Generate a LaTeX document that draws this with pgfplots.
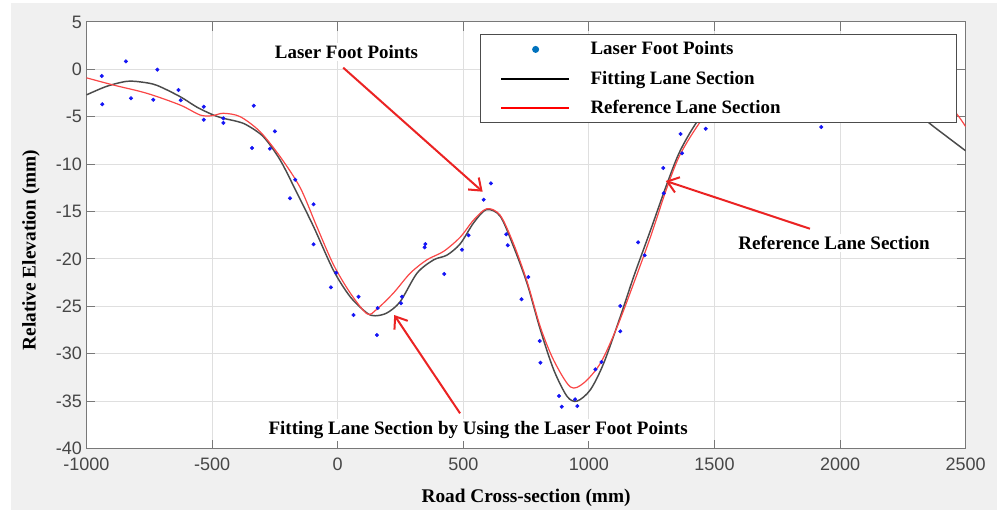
\documentclass[border=0pt]{standalone}
\usepackage{pgfplots}
\pgfplotsset{compat=1.18}
\usepackage{fontspec}
\setmainfont{Liberation Serif}
\setsansfont{Liberation Sans}
\usetikzlibrary{arrows.meta}
\definecolor{figgray}{RGB}{240,240,240}
\definecolor{gridc}{RGB}{223,223,223}
\definecolor{axc}{RGB}{120,120,120}
\definecolor{tickc}{RGB}{70,70,70}
\definecolor{fitc}{RGB}{75,75,75}
\definecolor{refc}{RGB}{250,70,70}
\definecolor{ptc}{RGB}{20,20,245}
\definecolor{legpt}{RGB}{0,114,189}
\definecolor{arrc}{RGB}{235,35,35}

\pgfplotstableread{
x y
-939 -0.71
-937 -3.69
-843 0.84
-823 -3.06
-734 -3.21
-718 -0.04
-634 -2.18
-625 -3.27
-533 -3.95
-533 -5.32
-455 -5.17
-455 -5.66
-334 -3.84
-341 -8.30
-270 -8.38
-250 -6.54
-190 -13.61
-169 -11.65
-96 -14.24
-96 -18.46
-27 -23.0
-6 -21.46
63 -25.92
83 -23.99
156 -28.03
159 -25.18
256 -23.99
252 -24.68
349 -18.43
346 -18.78
424 -21.59
495 -19.03
521 -17.51
581 -13.76
610 -12.03
671 -17.41
677 -18.57
759 -21.91
732 -24.26
804 -28.66
807 -30.95
881 -34.46
892 -35.59
945 -34.81
954 -35.52
1026 -31.65
1050 -30.88
1125 -24.97
1125 -27.64
1196 -18.25
1222 -19.62
1296 -10.41
1298 -13.08
1365 -6.82
1371 -8.86
1465 -6.27
1925 -6.09
}\pointstable

\pgfplotstableread{
x y
-1000 -2.7
-920 -1.8
-840 -1.27
-780 -1.35
-720 -1.69
-627 -2.89
-560 -4.0
-495 -4.82
-455 -5.17
-400 -5.5
-362 -5.88
-296 -7.11
-229 -9.57
-163 -13.0
-96 -16.6
-17 -21.2
50 -24.0
116 -25.7
149 -26.0
196 -25.7
249 -24.5
316 -21.5
382 -20.1
435 -19.6
488 -18.4
541 -16.2
592 -14.8
647 -15.5
700 -18.7
754 -22.6
807 -27.5
860 -31.7
913 -34.5
953 -35.0
1006 -33.8
1059 -31.0
1125 -26.1
1178 -21.9
1245 -17.0
1312 -12.0
1365 -8.5
1442 -5.1
1550 -2.0
1700 -0.3
1900 0.2
2100 -1.0
2250 -3.2
2347 -5.5
2420 -7.0
2500 -8.6
}\fittable

\pgfplotstableread{
x y
-1000 -0.9
-893 -1.66
-760 -2.53
-627 -3.77
-548 -4.82
-500 -4.9
-455 -4.64
-388 -5.0
-309 -6.58
-229 -9.22
-149 -12.5
-83 -16.6
-17 -20.6
50 -23.6
117 -25.8
156 -25.3
222 -23.6
289 -21.5
355 -20.1
422 -19.2
488 -17.7
541 -15.9
594 -14.7
647 -15.4
700 -18.4
754 -22.4
807 -27.2
860 -30.7
926 -33.5
979 -33.1
1046 -31.0
1112 -27.2
1178 -22.6
1245 -17.7
1312 -12.4
1365 -8.9
1450 -5.3
1550 -2.3
1700 -0.5
1900 0.3
2100 0.0
2300 -1.5
2420 -3.5
2467 -4.8
2500 -6.05
}\reftable

\begin{document}
\begin{tikzpicture}
\fill[white] (-64.875pt,-46.125pt) rectangle (682.875pt,336.375pt);
\fill[figgray] (-56.6pt,-46.125pt) rectangle (682.875pt,333.9pt);
\begin{axis}[
  at={(0pt,0pt)}, anchor=south west,
  scale only axis, width=659.4pt, height=319.95pt,
  xmin=-1000, xmax=2500, ymin=-40, ymax=5,
  xtick={-1000,-500,...,2500}, ytick={-40,-35,...,5},
  grid=major, grid style={gridc, line width=0.6pt},
  axis line style={axc, line width=0.8pt},
  tick style={axc, line width=0.8pt}, tick align=inside, major tick length=6.6pt,
  tick pos=both,
  axis background/.style={fill=white},
  tick label style={font=\sffamily\fontsize{13.5}{16}\selectfont, text=tickc},
  xticklabel style={yshift=-3.4pt},
  /pgf/number format/assume math mode=true,
  scaled ticks=false, /pgf/number format/1000 sep={},
  xlabel={Road Cross-section (mm)},
  ylabel={Relative Elevation (mm)},
  label style={font=\bfseries\fontsize{14.5}{17}\selectfont},
  xlabel style={at={(axis description cs:0.5,0)}, anchor=center, yshift=-37.1pt},
  ylabel style={at={(axis description cs:0,0.465)}, anchor=center, yshift=41.6pt},
  legend cell align=left,
  legend style={at={(0.4476,0.971)}, anchor=north west, draw=black!70, line width=0.8pt,
    fill=white, inner xsep=0pt, inner ysep=0pt, row sep=0pt,
    font=\bfseries\fontsize{14.2}{17}\selectfont, nodes={inner sep=0pt},
    /tikz/every even column/.append style={column sep=0pt}},
]
\addplot[only marks, mark=*, mark size=1.3pt, color=ptc,
  legend image code/.code={\path[draw=none,fill=none] (0pt,-10.95pt) rectangle (82.5pt,10.95pt); \fill[legpt] (41.3pt,0pt) circle (2.2pt);}]
  table[x=x,y=y] {\pointstable};
\addlegendentry{\makebox[274.3pt][l]{Laser Foot Points}}
\addplot[smooth, no markers, color=fitc, line width=1.1pt,
  legend image code/.code={\path[draw=none,fill=none] (0pt,-10.95pt) rectangle (82.5pt,10.95pt); \draw[black, line width=1.6pt] (15.5pt,0pt) -- (66.2pt,0pt);}]
  table[x=x,y=y] {\fittable};
\addlegendentry{\makebox[274.3pt][l]{Fitting Lane Section}}
\addplot[smooth, no markers, color=refc, line width=0.9pt,
  legend image code/.code={\path[draw=none,fill=none] (0pt,-10.95pt) rectangle (82.5pt,10.95pt); \draw[red, line width=1.6pt] (15.5pt,0pt) -- (66.2pt,0pt);}]
  table[x=x,y=y] {\reftable};
\addlegendentry{\makebox[274.3pt][l]{Reference Lane Section}}

\draw[arrc, line width=1.5pt, -{Straight Barb[length=8pt,width=12pt]}] (axis cs:22,0.17) -- (axis cs:577,-12.91);
\draw[arrc, line width=1.5pt, -{Straight Barb[length=8pt,width=12pt]}] (axis cs:1880,-16.82) -- (axis cs:1306,-11.78);
\draw[arrc, line width=1.5pt, -{Straight Barb[length=8pt,width=12pt]}] (axis cs:487,-36.29) -- (axis cs:225,-25.92);
\node[fill=white, inner sep=1.5pt, font=\bfseries\fontsize{14.2}{17}\selectfont] at (axis cs:35,1.82) {Laser Foot Points};
\node[fill=white, inner sep=1.5pt, font=\bfseries\fontsize{14.3}{17}\selectfont] at (axis cs:1976,-18.32) {Reference Lane Section};
\node[fill=white, inner sep=1.5pt, font=\bfseries\fontsize{14.25}{17}\selectfont] at (axis cs:559,-38.05) {Fitting Lane Section by Using the Laser Foot Points};
\end{axis}
\end{tikzpicture}
\end{document}
